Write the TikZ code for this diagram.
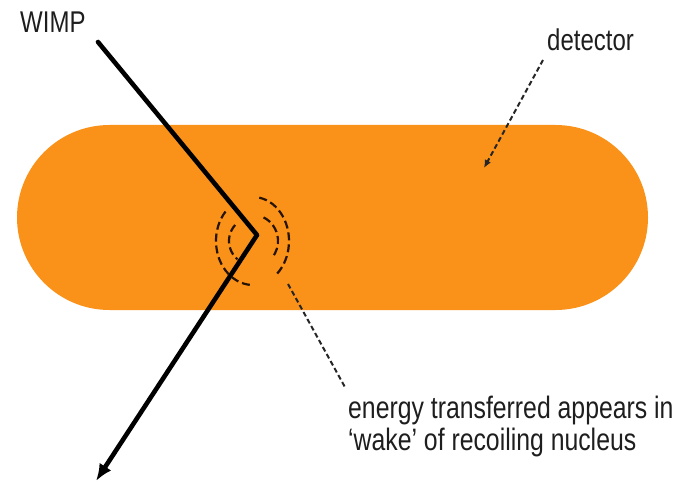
\documentclass[tikz,border=0pt]{standalone}
\usepackage{fontspec}
\newfontfamily\labfont[FakeStretch=0.8]{Liberation Sans}
\usetikzlibrary{arrows.meta,calc}
\definecolor{detorange}{RGB}{250,146,26}
\definecolor{labgray}{RGB}{30,30,30}
\tikzset{
  lab/.style={font=\labfont\fontsize{30}{32}\selectfont, text=labgray, inner sep=0pt},
  track/.style={line width=4.6pt, draw=black},
  wake/.style={line width=2.2pt, draw=black!85!orange, dash pattern=on 8pt off 4pt},
  pointer/.style={line width=2pt, draw=black!85, dash pattern=on 5pt off 3pt},
}
\begin{document}
\begin{tikzpicture}[x=1pt,y=-1pt]
\useasboundingbox (0,0) rectangle (677,484);
% detector body
\node[fill=detorange, rounded corners=92.5pt, minimum width=631pt, minimum height=185pt, inner sep=0pt] (det) at (332.5,217.5) {};
% labels
\node[lab, anchor=base west] (wimp) at (20,33) {WIMP};
\node[lab, anchor=base west] (dlab) at (547,51) {detector};
\node[lab, font=\labfont\fontsize{31}{32}\selectfont, anchor=base west, align=left] (elab) at (348,450) {energy transferred appears in\\‘wake’ of recoiling nucleus};
% coordinates
\coordinate (win) at (98,42);
\coordinate (v) at (257,235);
\coordinate (out) at (96,481);
\coordinate (dtip) at (484,168);
\coordinate (dstart) at (543,60);
\coordinate (wstart) at (288,284);
\coordinate (wend) at (346,389);
\coordinate (c) at (253,241);
% tracks
\draw[track, line cap=round] (win) -- (v);
\draw[track, -{Latex[length=17pt,width=14pt]}] (v) -- (out);
% wake arcs
\draw[wake] ($(c)+({36*cos(-80)},{44*sin(-80)})$) arc[start angle=-80, end angle=52, x radius=36, y radius=44];
\draw[wake] ($(c)+({37*cos(222)},{44*sin(222)})$) arc[start angle=222, end angle=95, x radius=37, y radius=44];
\draw[wake] ($(c)+({25*cos(-65)},{26*sin(-65)})$) arc[start angle=-65, end angle=40, x radius=25, y radius=26];
\draw[wake] ($(c)+({24*cos(222)},{24*sin(222)})$) arc[start angle=222, end angle=130, x radius=24, y radius=24];
% pointers
\draw[pointer, -{Latex[length=8pt,width=7pt]}] (dstart) -- (dtip);
\draw[pointer] (wstart) -- (wend);
\end{tikzpicture}
\end{document}
